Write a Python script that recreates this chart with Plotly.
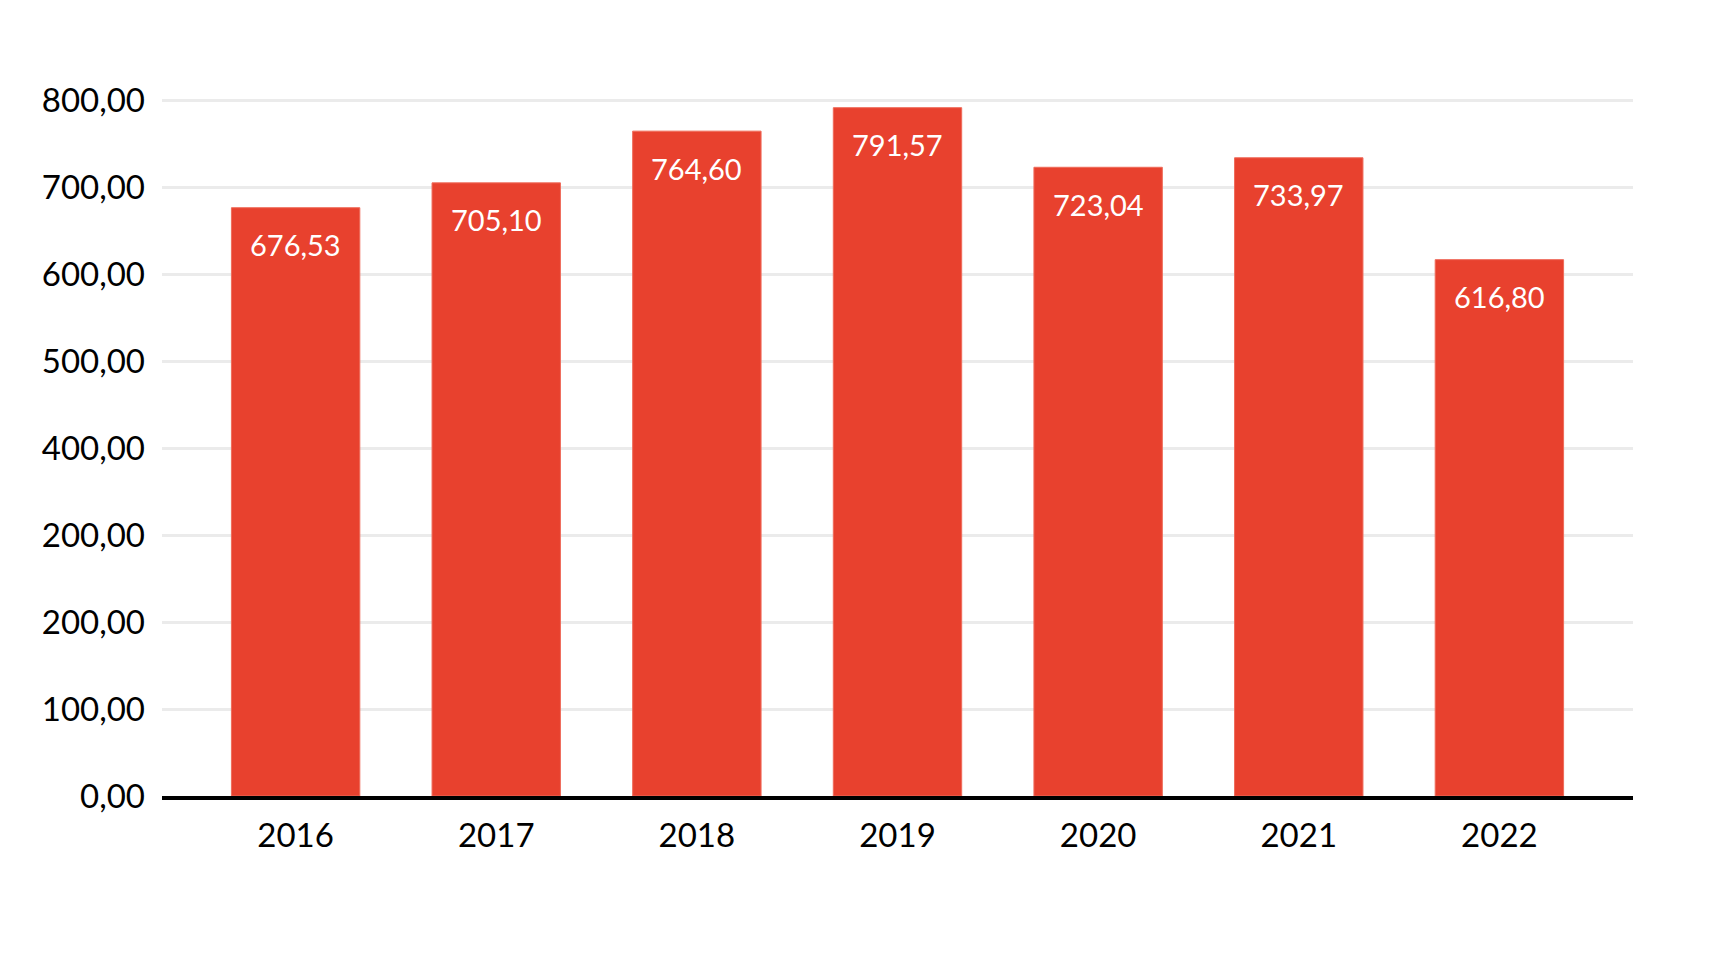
import plotly.graph_objects as go

years = ["2016", "2017", "2018", "2019", "2020", "2021", "2022"]
values = [676.53, 705.10, 764.60, 791.57, 723.04, 733.97, 616.80]
value_labels = ["676,53", "705,10", "764,60", "791,57", "723,04", "733,97", "616,80"]
y_tick_vals = [0, 100, 200, 300, 400, 500, 600, 700, 800]
y_tick_text = ["0,00", "100,00", "200,00", "200,00", "400,00", "500,00", "600,00", "700,00", "800,00"]

BAR = "#E8412E"

fig = go.Figure()
fig.add_trace(go.Bar(
    x=years, y=values,
    marker=dict(color=BAR, line=dict(color="#EF6B5A", width=1)),
    hoverinfo="skip",
))

for i, (v, lab) in enumerate(zip(values, value_labels)):
    fig.add_annotation(
        x=i, y=v, text=lab, showarrow=False,
        xref="x", yref="y", yanchor="middle", yshift=-37,
        font=dict(family="Lato", size=29, color="white"),
    )

fig.update_layout(
    width=1714, height=959,
    margin=dict(l=154, r=89, t=88, b=171),
    paper_bgcolor="white", plot_bgcolor="white",
    showlegend=False,
    bargap=0.36,
    font=dict(family="Lato", color="black"),
    xaxis=dict(
        type="category",
        range=[-0.666, 6.666],
        showgrid=False,
        showline=True, linecolor="black", linewidth=4,
        layer="above traces",
        ticks="",
        ticklabelstandoff=7,
        tickfont=dict(family="Lato", size=33, color="black"),
    ),
    yaxis=dict(
        range=[0, 805],
        tickvals=y_tick_vals, ticktext=y_tick_text,
        showgrid=True, gridcolor="#EBEBEB", gridwidth=3,
        zeroline=False,
        showline=False,
        ticks="",
        ticklabelstandoff=16,
        tickfont=dict(family="Lato", size=33, color="black"),
    ),
)

fig.write_html("out.html")
